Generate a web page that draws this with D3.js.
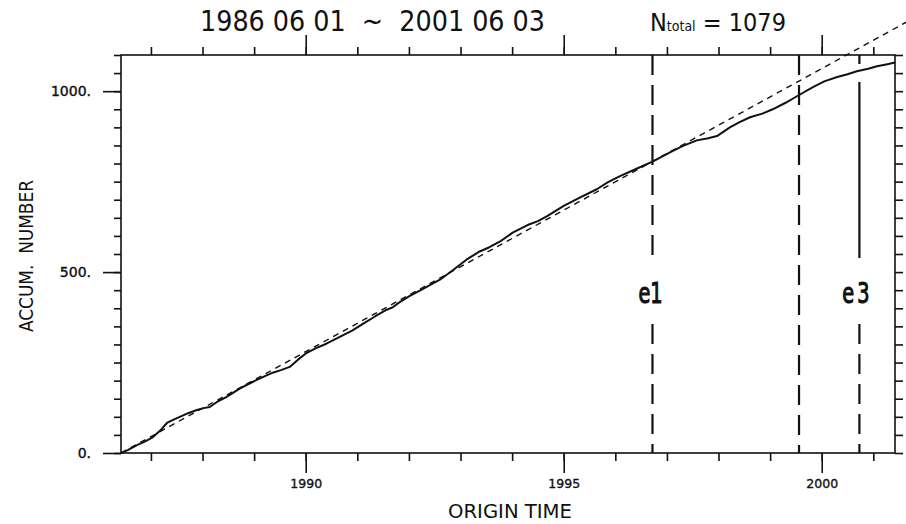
<!DOCTYPE html>
<html>
<head>
<meta charset="utf-8">
<script src="https://cdn.jsdelivr.net/npm/d3@7"></script>
<style>
  body { margin: 0; background: #fff; }
  svg { display: block; }
  text { font-family: "DejaVu Sans Condensed", "DejaVu Sans", sans-serif; fill: #111; white-space: pre; }
  .thin { font-weight: 200; }
</style>
</head>
<body>
<svg></svg>
<script>
const width = 906;
const height = 524;
const plotLeft = 121;
const plotRight = 895;
const plotTop = 55;
const plotBottom = 453;

// accumulated number of events vs origin time (decimal years)
const years = [1986.42, 1986.55, 1986.73, 1986.90, 1987.04, 1987.18, 1987.31, 1987.45, 1987.56, 1987.72,
  1987.89, 1988.02, 1988.14, 1988.28, 1988.45, 1988.59, 1988.72, 1988.88, 1989.05, 1989.20,
  1989.36, 1989.52, 1989.69, 1989.85, 1990.02, 1990.20, 1990.40, 1990.66, 1990.90, 1991.10,
  1991.35, 1991.57, 1991.68, 1991.80, 1992.00, 1992.30, 1992.60, 1992.85, 1993.12, 1993.37,
  1993.55, 1993.76, 1994.01, 1994.30, 1994.50, 1994.67, 1995.00, 1995.31, 1995.64, 1995.85,
  1996.09, 1996.40, 1996.73, 1997.06, 1997.30, 1997.58, 1997.80, 1997.97, 1998.22, 1998.40,
  1998.61, 1998.85, 1999.05, 1999.30, 1999.52, 1999.83, 2000.05, 2000.30, 2000.50, 2000.68,
  2000.90, 2001.07, 2001.25, 2001.42];
const counts = [0, 8, 22, 33, 44, 62, 83, 93, 100, 110,
  119, 124, 127, 141, 154, 166, 178, 190, 202, 212,
  222, 229, 238, 258, 277, 290, 302, 321, 338, 356,
  378, 396, 402, 415, 433, 456, 479, 505, 535, 557,
  568, 584, 609, 630, 641, 654, 683, 706, 729, 748,
  765, 785, 806, 831, 848, 864, 870, 876, 900, 914,
  928, 938, 950, 968, 986, 1011, 1027, 1039, 1047, 1055,
  1062, 1069, 1074, 1079];

// straight reference line (dashed)
const fitYears = [1986.42, 2001.72];
const fitCounts = [0, 1197];

// vertical event markers
const eventYears = [1996.72, 1999.56, 2000.73];
const eventLabels = ["e1", "", "e3"];

// ticks
const xMinorTicks = d3.range(1987, 2002, 1);
const xMajorTicks = [1990, 1995, 2000];
const yMinorTicks = d3.range(0, 1101, 50);
const yMajorTicks = [0, 500, 1000];
const yTickLabels = ["0.", "500.", "1000."];

const titleText = "1986 06 01  ~  2001 06 03";
const nTotal = 1079;

let svg = d3.select("svg")
    .attr("width", width)
    .attr("height", height);

const scX = d3.scaleLinear().domain([1986.42, 2001.42]).range([plotLeft, plotRight]);
const scY = d3.scaleLinear().domain([0, 1100]).range([plotBottom, plotTop]);

function drawAxes() {
  // bottom
  svg.append("g").attr("transform", `translate(0, ${plotBottom})`)
    .call(d3.axisBottom(scX).tickValues(xMinorTicks).tickSize(8).tickFormat(""));
  svg.append("g").attr("transform", `translate(0, ${plotBottom})`)
    .call(d3.axisBottom(scX).tickValues(xMajorTicks).tickSize(20).tickPadding(6).tickFormat(d3.format("d")))
    .selectAll("text")
    .style("font-family", "DejaVu Sans").style("font-size", "12.5px")
    .attr("stroke", "#111").attr("stroke-width", 0.35);
  // top
  svg.append("g").attr("transform", `translate(0, ${plotTop})`)
    .call(d3.axisTop(scX).tickValues(xMinorTicks).tickSize(8).tickFormat(""));
  svg.append("g").attr("transform", `translate(0, ${plotTop})`)
    .call(d3.axisTop(scX).tickValues(xMajorTicks).tickSize(20).tickFormat(""));
  // left
  svg.append("g").attr("transform", `translate(${plotLeft}, 0)`)
    .call(d3.axisLeft(scY).tickValues(yMinorTicks).tickSize(7).tickFormat(""));
  svg.append("g").attr("transform", `translate(${plotLeft}, 0)`)
    .call(d3.axisLeft(scY).tickValues(yMajorTicks).tickSize(18).tickPadding(12)
      .tickFormat((d, i) => yTickLabels[i]))
    .selectAll("text")
    .style("font-family", "DejaVu Sans").style("font-size", "14px")
    .attr("stroke", "#111").attr("stroke-width", 0.4);
  // right
  svg.append("g").attr("transform", `translate(${plotRight}, 0)`)
    .call(d3.axisRight(scY).tickValues(yMinorTicks).tickSize(8).tickFormat(""));

  svg.selectAll(".domain").remove();
  svg.selectAll(".tick line").attr("stroke", "#111").attr("stroke-width", 1.6);
  svg.selectAll(".tick text").attr("fill", "#111");

  svg.append("rect")
    .attr("x", plotLeft).attr("y", plotTop)
    .attr("width", plotRight - plotLeft).attr("height", plotBottom - plotTop)
    .attr("fill", "none").attr("stroke", "#111").attr("stroke-width", 1.6);
}

function drawTexts() {
  svg.append("text")
    .attr("class", "thin")
    .attr("x", 200).attr("y", 31)
    .attr("textLength", 345).attr("lengthAdjust", "spacingAndGlyphs")
    .style("font-size", "29px")
    .text(titleText);

  let nt = svg.append("text")
    .attr("class", "thin")
    .attr("x", 650).attr("y", 31)
    .style("font-size", "25px");
  nt.append("tspan").text("N");
  nt.append("tspan").style("font-size", "14px").text("total");
  nt.append("tspan").text(` = ${nTotal}`);

  svg.append("text")
    .attr("class", "thin")
    .attr("x", 448).attr("y", 518)
    .attr("textLength", 124).attr("lengthAdjust", "spacingAndGlyphs")
    .style("font-size", "20px")
    .text("ORIGIN TIME");

  svg.append("text")
    .attr("class", "thin")
    .attr("transform", "translate(33, 332) rotate(-90)")
    .attr("textLength", 152).attr("lengthAdjust", "spacingAndGlyphs")
    .style("font-size", "20px")
    .text("ACCUM.  NUMBER");
}

function drawEvents() {
  const gapTop = 258;
  const gapBottom = 324;
  eventYears.forEach((yr, i) => {
    const x = scX(yr);
    const labelled = eventLabels[i] !== "";
    const segs = labelled ? [[plotTop, gapTop], [gapBottom, plotBottom]] : [[plotTop, plotBottom]];
    segs.forEach((s, j) => {
      // e3: short dash near the frame, then a long solid run down to the label
      const dash = (i === 2 && j === 0) ? "9 18 300" : "20 10";
      svg.append("line")
        .attr("x1", x).attr("x2", x)
        .attr("y1", s[0]).attr("y2", s[1])
        .attr("stroke", "#111").attr("stroke-width", 2.2)
        .attr("stroke-dasharray", dash);
    });
    if (labelled) {
      svg.append("text")
        .attr("transform", `translate(${x - 2}, 303) scale(0.74, 1)`)
        .attr("text-anchor", "middle")
        .style("font-size", "29px")
        .style("letter-spacing", i === 2 ? "4px" : "0px")
        .attr("stroke", "#111").attr("stroke-width", 1.1)
        .text(eventLabels[i]);
    }
  });
}

function drawChart() {
  const line = d3.line()
    .x((d, i) => scX(d))
    .y((d, i) => scY(counts[i]));

  const fitLine = d3.line()
    .x((d, i) => scX(d))
    .y((d, i) => scY(fitCounts[i]));

  svg.append("path")
    .datum(fitYears)
    .attr("fill", "none")
    .attr("stroke", "#111")
    .attr("stroke-width", 1.4)
    .attr("stroke-dasharray", "6 5")
    .attr("d", fitLine);

  svg.append("path")
    .datum(years)
    .attr("fill", "none")
    .attr("stroke", "#111")
    .attr("stroke-width", 2)
    .attr("stroke-linejoin", "round")
    .attr("d", line);
}

drawAxes();
drawEvents();
drawChart();
drawTexts();
</script>
</body>
</html>
